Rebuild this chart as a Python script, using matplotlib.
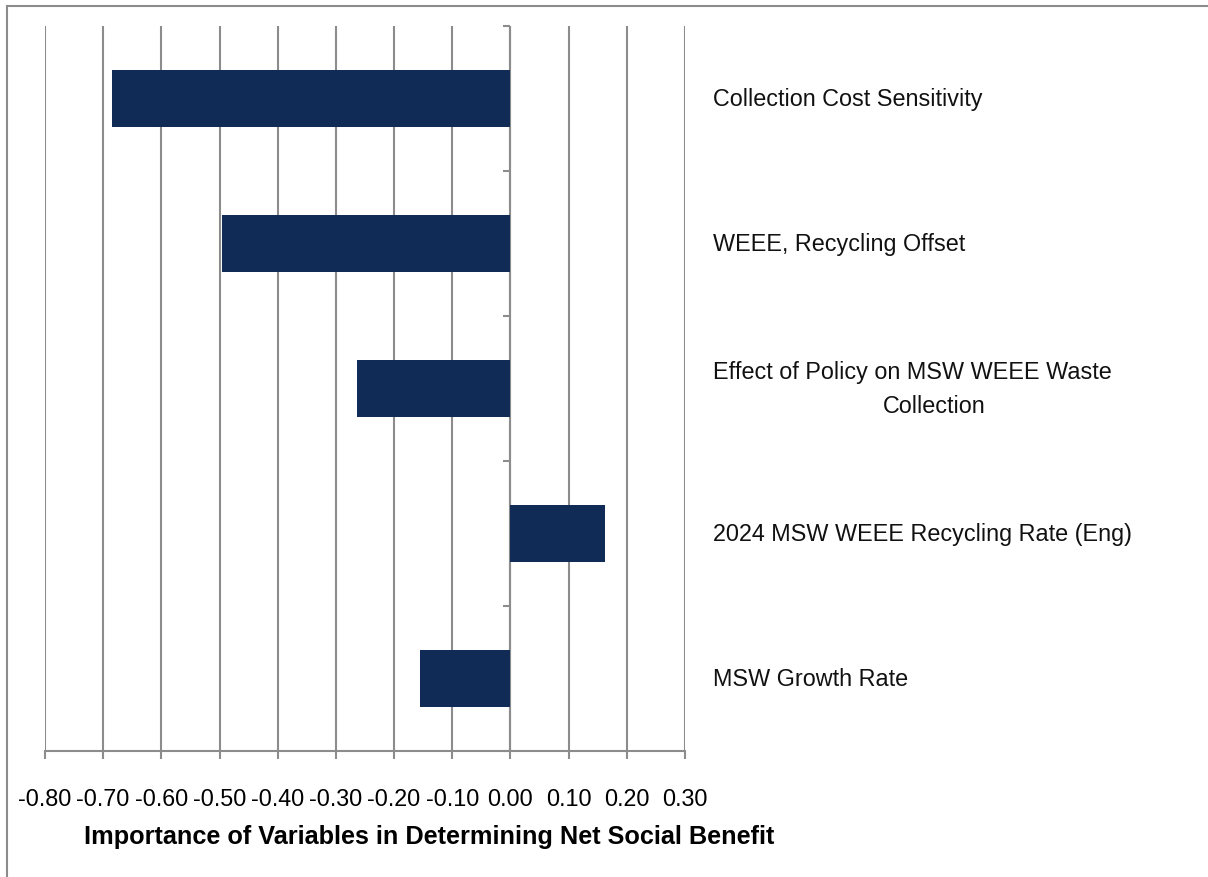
import matplotlib
matplotlib.use("Agg")
import matplotlib.pyplot as plt
from matplotlib.lines import Line2D
import matplotlib.transforms as mtransforms

# Variables ranked by their influence on net social benefit (top to bottom)
variables = [
    "Collection Cost Sensitivity",
    "WEEE, Recycling Offset",
    "Effect of Policy on MSW WEEE Waste\nCollection",
    "2024 MSW WEEE Recycling Rate (Eng)",
    "MSW Growth Rate",
]
importance = [-0.685, -0.495, -0.263, 0.163, -0.155]

x_ticks = [-0.80, -0.70, -0.60, -0.50, -0.40, -0.30, -0.20, -0.10, 0.00, 0.10, 0.20, 0.30]
x_title = "Importance of Variables in Determining Net Social Benefit"

BAR_COLOR = "#112b57"
GRID_COLOR = "#8c8c8c"
FONT = ["Liberation Sans", "DejaVu Sans"]
TEXT_SIZE = 16.8

W, H = 1208, 878
fig = plt.figure(figsize=(W / 100, H / 100), dpi=100)
fig.patch.set_facecolor("white")

# plot area in pixels: left 45, right 685, top 27, bottom 752
ax = fig.add_axes([45 / W, 1 - 752 / H, 640 / W, 725 / H])
ypos = list(range(len(variables)))
ax.barh(ypos, importance, height=0.39, color=BAR_COLOR, zorder=3)

ax.set_xlim(x_ticks[0], x_ticks[-1])
ax.set_ylim(len(variables) - 0.5, -0.5)

ax.set_xticks(x_ticks)
ax.set_xticklabels([f"{v:.2f}" for v in x_ticks], fontfamily=FONT, fontsize=TEXT_SIZE)
ax.tick_params(axis="x", length=6, width=1.5, color=GRID_COLOR, pad=20)
ax.set_yticks([])
ax.xaxis.grid(True, color=GRID_COLOR, linewidth=1.5, zorder=1)
for side in ("top", "right", "left"):
    ax.spines[side].set_visible(False)
ax.spines["bottom"].set_color(GRID_COLOR)
ax.spines["bottom"].set_linewidth(1.5)

# vertical category axis through zero, with boundary ticks pointing left
ax.axvline(0, color=GRID_COLOR, linewidth=1.5, zorder=2)
for b in [k - 0.5 for k in range(len(variables) + 1)]:
    ax.plot([-0.012, 0], [b, b], color=GRID_COLOR, linewidth=1.5,
            zorder=2, clip_on=False, solid_capstyle="butt")

# category labels to the right of the plot area
lab_tr = mtransforms.blended_transform_factory(fig.transFigure, ax.transData)
for y, name in zip(ypos, variables):
    lines = name.split("\n")
    if len(lines) == 1:
        ax.text(713 / W, y, name, transform=lab_tr, ha="left", va="center",
                fontfamily=FONT, fontsize=TEXT_SIZE, color="#111111")
    else:
        ax.text(713 / W, y - 0.12, lines[0], transform=lab_tr, ha="left",
                va="center", fontfamily=FONT, fontsize=TEXT_SIZE, color="#111111")
        ax.text(934 / W, y + 0.12, lines[1], transform=lab_tr, ha="center",
                va="center", fontfamily=FONT, fontsize=TEXT_SIZE, color="#111111")

fig.text(429 / W, 1 - 837 / H, x_title, ha="center", va="center",
         fontfamily=FONT, fontsize=18.2, fontweight="bold", color="black")

# chart frame (left and top edges)
fig.add_artist(Line2D([7 / W, 7 / W], [0, 1 - 7 / H], transform=fig.transFigure,
                      color=GRID_COLOR, linewidth=1.5))
fig.add_artist(Line2D([7 / W, 1], [1 - 7 / H, 1 - 7 / H], transform=fig.transFigure,
                      color=GRID_COLOR, linewidth=1.5))

fig.savefig("out.png", dpi=100, facecolor="white")
